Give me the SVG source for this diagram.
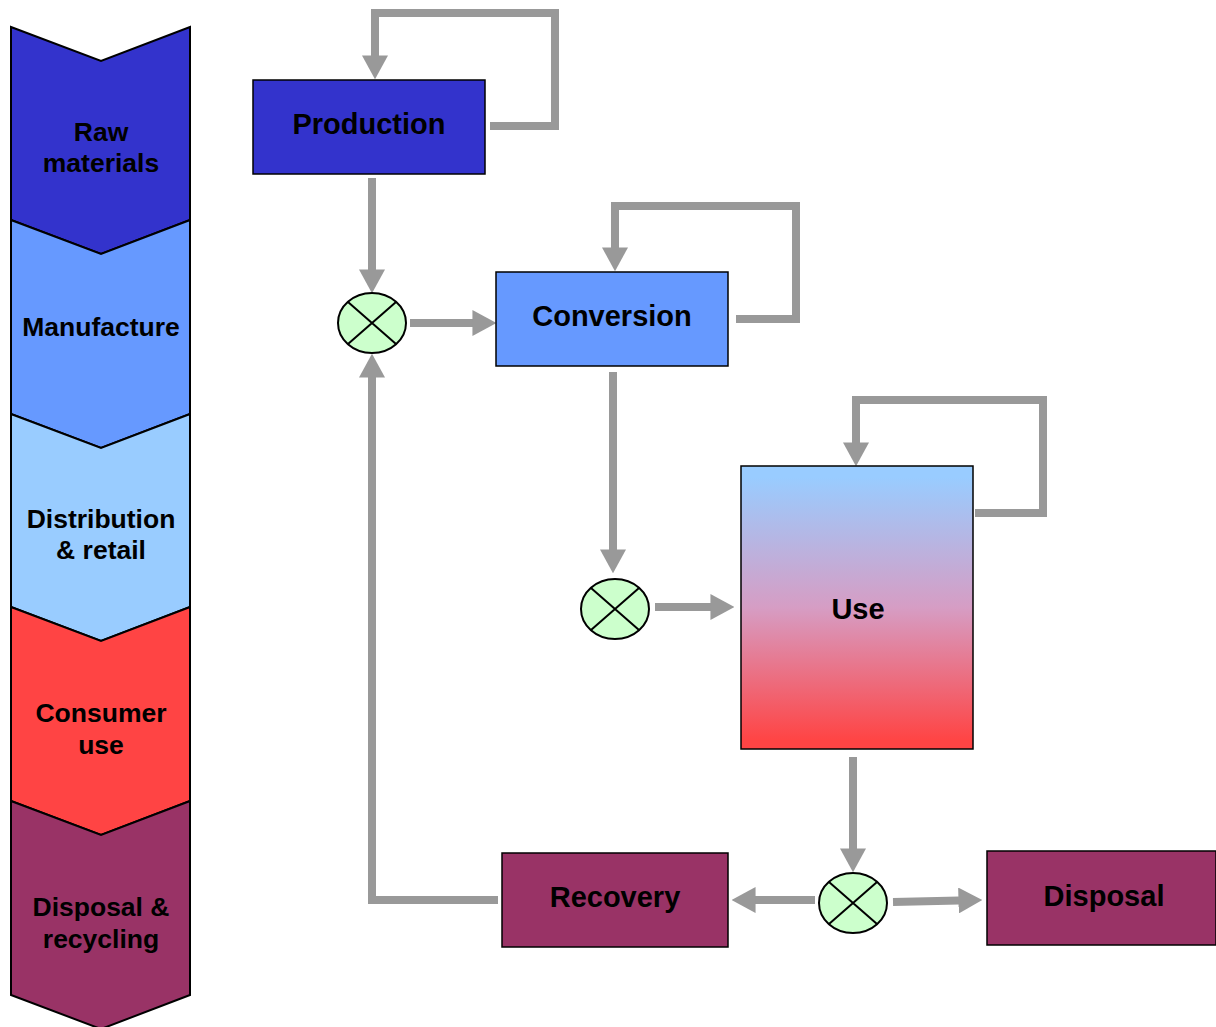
<svg xmlns="http://www.w3.org/2000/svg" width="1216" height="1027" viewBox="0 0 1216 1027">
<style>
.t{font-family:"Liberation Sans",Arial,sans-serif;font-weight:bold;fill:#000;text-anchor:middle}
.big{font-size:29px}
.lab{font-size:26.5px}
.box{stroke:#000;stroke-width:1.5}
.chev{stroke:#000;stroke-width:2}
.c{fill:none;stroke:#999;stroke-width:8}
.circ{fill:#CCFFCC;stroke:#000;stroke-width:2}
.x{stroke:#000;stroke-width:2}
</style>
<defs>
<marker id="ah" markerUnits="userSpaceOnUse" markerWidth="24" markerHeight="26" viewBox="0 0 22 24" refX="0.5" refY="12" orient="auto">
<path d="M0,0 L22,12 L0,24 Z" fill="#999"/>
</marker>
<linearGradient id="g" x1="0" y1="0" x2="0" y2="1">
<stop offset="0.04" stop-color="#99CCFF"/>
<stop offset="0.5" stop-color="#D69DC4"/>
<stop offset="0.97" stop-color="#FF4444"/>
</linearGradient>
</defs>
<g id="stages">
<g id="stage-raw"><path class="chev" fill="#3333CC" d="M11,27 L101,61 L190,27 L190,220 L101,254 L11,220 Z"/><text class="t lab" x="101" y="141">Raw</text><text class="t lab" x="101" y="172">materials</text></g>
<g id="stage-manufacture"><path class="chev" fill="#6699FF" d="M11,220 L101,254 L190,220 L190,414 L101,448 L11,414 Z"/><text class="t lab" x="101" y="336">Manufacture</text></g>
<g id="stage-distribution"><path class="chev" fill="#99CCFF" d="M11,414 L101,448 L190,414 L190,607 L101,641 L11,607 Z"/><text class="t lab" x="101" y="528">Distribution</text><text class="t lab" x="101" y="559">&amp; retail</text></g>
<g id="stage-consumer"><path class="chev" fill="#FF4444" d="M11,607 L101,641 L190,607 L190,801 L101,835 L11,801 Z"/><text class="t lab" x="101" y="722">Consumer</text><text class="t lab" x="101" y="754">use</text></g>
<g id="stage-disposal"><path class="chev" fill="#993366" d="M11,801 L101,835 L190,801 L190,995 L101,1029 L11,995 Z"/><text class="t lab" x="101" y="916">Disposal &amp;</text><text class="t lab" x="101" y="948">recycling</text></g>
</g>
<g id="connectors">
<polyline class="c" points="490,126 555,126 555,13 375,13 375,56" marker-end="url(#ah)"/>
<polyline class="c" points="372,178 372,270" marker-end="url(#ah)"/>
<polyline class="c" points="410,323 473,323" marker-end="url(#ah)"/>
<polyline class="c" points="736,319 796,319 796,206 615,206 615,248" marker-end="url(#ah)"/>
<polyline class="c" points="613,372 613,550" marker-end="url(#ah)"/>
<polyline class="c" points="655,607 711,607" marker-end="url(#ah)"/>
<polyline class="c" points="975,513 1043,513 1043,400 856,400 856,443" marker-end="url(#ah)"/>
<polyline class="c" points="853,757 853,849" marker-end="url(#ah)"/>
<polyline class="c" points="815,900 755,900" marker-end="url(#ah)"/>
<polyline class="c" points="893,902 959,900.5" marker-end="url(#ah)"/>
<polyline class="c" points="498,900 372,900 372,377" marker-end="url(#ah)"/>
</g>
<g id="production"><rect class="box" x="253" y="80" width="232" height="94" fill="#3333CC"/><text class="t big" x="369" y="134">Production</text></g>
<g id="conversion"><rect class="box" x="496" y="272" width="232" height="94" fill="#6699FF"/><text class="t big" x="612" y="326">Conversion</text></g>
<g id="use"><rect class="box" x="741" y="466" width="232" height="283" fill="url(#g)"/><text class="t big" x="858" y="619">Use</text></g>
<g id="recovery"><rect class="box" x="502" y="853" width="226" height="94" fill="#993366"/><text class="t big" x="615" y="907">Recovery</text></g>
<g id="disposal"><rect class="box" x="987" y="851" width="229" height="94" fill="#993366"/><text class="t big" x="1104" y="906">Disposal</text></g>
<g id="junction1"><ellipse class="circ" cx="372" cy="323" rx="34" ry="30"/><path class="x" d="M348,302 L396,344 M396,302 L348,344"/></g>
<g id="junction2"><ellipse class="circ" cx="615" cy="609" rx="34" ry="30"/><path class="x" d="M591,588 L639,630 M639,588 L591,630"/></g>
<g id="junction3"><ellipse class="circ" cx="853" cy="903" rx="34" ry="30"/><path class="x" d="M829,882 L877,924 M877,882 L829,924"/></g>
</svg>
